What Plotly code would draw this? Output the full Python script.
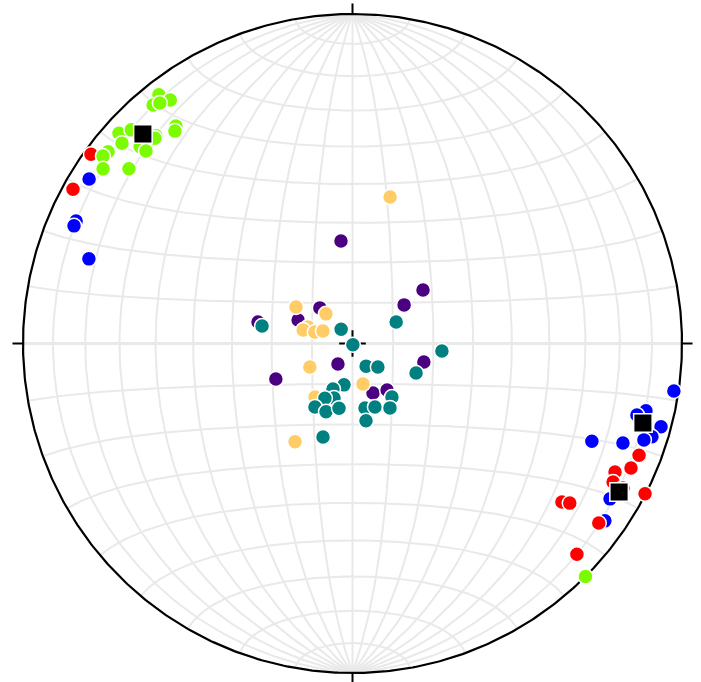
import numpy as np
import plotly.graph_objects as go

# Lower-hemisphere lineations: trend (deg, clockwise from N) and plunge (deg)
blue_trend = [302.0, 293.9, 292.9, 287.8, 98.4, 102.9, 104.1, 105.1, 107.3, 108.3,
              112.2, 110.2, 121.1, 125.1]
blue_plunge = [6.4, 9.1, 9.1, 17.1, 1.6, 9.5, 12.0, 3.4, 5.4, 7.6,
               22.6, 13.6, 9.6, 7.1]

red_trend = [305.9, 298.9, 111.3, 114.1, 116.1, 118.0, 118.1, 117.2, 127.1, 126.3,
             126.1, 133.2]
red_plunge = [2.3, 3.5, 7.4, 8.2, 12.3, 11.4, 7.7, 0.2, 21.4, 19.3,
              8.3, 7.3]

green_trend = [322.1, 323.2, 320.1, 321.3, 320.9, 320.1, 312.0, 314.0, 311.0, 312.8,
               313.0, 316.6, 316.1, 308.1, 306.9, 305.0, 308.0, 135.0]
green_plunge = [4.9, 8.5, 6.3, 7.2, 16.1, 17.1, 5.2, 7.4, 8.1, 13.2,
                15.4, 14.3, 14.6, 6.4, 5.9, 8.4, 15.0, 0.0]

purple_trend = [52.8, 53.2, 317.5, 282.8, 293.3, 353.6, 215.3, 104.5, 245.1, 157.5, 143.4]
purple_plunge = [68.1, 74.1, 78.1, 66.0, 75.4, 64.4, 83.8, 71.8, 69.1, 76.8, 75.7]

yellow_trend = [14.4, 302.9, 318.1, 290.3, 285.3, 287.0, 293.0, 241.1, 165.5, 215.0, 210.3]
yellow_plunge = [52.1, 73.4, 80.2, 78.3, 77.4, 80.3, 82.1, 78.0, 79.7, 73.9, 61.7]

teal_trend = [280.9, 321.6, 162.0, 63.7, 94.8, 149.0, 132.7, 114.9, 191.6, 203.2,
              198.7, 206.8, 210.6, 201.2, 191.8, 169.0, 160.5, 143.6, 149.8, 170.1, 197.5]
teal_plunge = [67.2, 85.5, 89.7, 78.0, 67.8, 83.5, 81.5, 72.7, 79.6, 77.8,
               75.8, 74.9, 71.8, 71.9, 73.7, 73.8, 73.4, 73.6, 71.6, 70.6, 65.7]

# Mean directions of the three clusters near the primitive
mean_trend = [315.0, 105.3, 119.1]
mean_plunge = [11.0, 9.5, 8.2]


def equal_area(trend, plunge):
    """Schmidt (equal-area) lower-hemisphere projection onto the unit circle."""
    t = np.radians(np.asarray(trend, dtype=float))
    p = np.radians(np.asarray(plunge, dtype=float))
    r = np.sqrt(2.0) * np.sin((np.pi / 2 - p) / 2)
    return r * np.sin(t), r * np.cos(t)


def net_point(lon, lat):
    """Equal-area net with its poles at N and S (lon/lat in radians)."""
    d = np.sqrt(1 + np.cos(lat) * np.cos(lon))
    return np.cos(lat) * np.sin(lon) / d, np.sin(lat) / d


fig = go.Figure()

grid_color = "#e9e9e9"
gx, gy = [], []
lat_s = np.radians(np.linspace(-90, 90, 181))
for lon_deg in range(-80, 90, 10):
    x, y = net_point(np.radians(lon_deg), lat_s)
    gx += list(x) + [None]
    gy += list(y) + [None]
lon_s = np.radians(np.linspace(-90, 90, 181))
for lat_deg in range(-80, 90, 10):
    if lat_deg == 0:
        continue
    x, y = net_point(lon_s, np.radians(lat_deg))
    gx += list(x) + [None]
    gy += list(y) + [None]
fig.add_trace(go.Scatter(x=gx, y=gy, mode="lines",
                         line=dict(color=grid_color, width=2), hoverinfo="skip"))
# equator
ex, ey = net_point(lon_s, 0.0 * lon_s)
fig.add_trace(go.Scatter(x=ex, y=ey, mode="lines",
                         line=dict(color=grid_color, width=3.2), hoverinfo="skip"))

# primitive circle and cardinal ticks
a = np.linspace(0, 2 * np.pi, 721)
fig.add_trace(go.Scatter(x=np.sin(a), y=np.cos(a), mode="lines",
                         line=dict(color="black", width=2.2), hoverinfo="skip"))
tick_len = 0.032
tx, ty = [], []
for az in (0, 90, 180, 270):
    s, c = np.sin(np.radians(az)), np.cos(np.radians(az))
    tx += [s, s * (1 + tick_len), None]
    ty += [c, c * (1 + tick_len), None]
fig.add_trace(go.Scatter(x=tx, y=ty, mode="lines",
                         line=dict(color="black", width=2), hoverinfo="skip"))

# centre mark
fig.add_trace(go.Scatter(x=[0], y=[0], mode="markers",
                         marker=dict(symbol="cross-thin", size=19,
                                     line=dict(color="black", width=2))))


def add_points(trend, plunge, color):
    x, y = equal_area(trend, plunge)
    fig.add_trace(go.Scatter(x=x, y=y, mode="markers",
                             marker=dict(size=15, color=color,
                                         line=dict(color="white", width=1.5))))


add_points(blue_trend, blue_plunge, "#0000ff")
add_points(red_trend, red_plunge, "#ff0000")
add_points(green_trend, green_plunge, "#7cfc00")
add_points(purple_trend, purple_plunge, "#4b0082")
add_points(yellow_trend, yellow_plunge, "#ffcc66")
add_points(teal_trend, teal_plunge, "#008080")

mx, my = equal_area(mean_trend, mean_plunge)
fig.add_trace(go.Scatter(x=mx, y=my, mode="markers",
                         marker=dict(symbol="square", size=18.5, color="black",
                                     line=dict(color="white", width=1.5))))

W, H = 701, 682
cx, cy, R = 352.5, 343.5, 329.5
fig.update_layout(
    width=W, height=H,
    margin=dict(l=0, r=0, t=0, b=0),
    showlegend=False,
    plot_bgcolor="white", paper_bgcolor="white",
    xaxis=dict(range=[-cx / R, (W - cx) / R], visible=False, fixedrange=True),
    yaxis=dict(range=[-(H - cy) / R, cy / R], visible=False, fixedrange=True),
)

fig.write_html("out.html")
